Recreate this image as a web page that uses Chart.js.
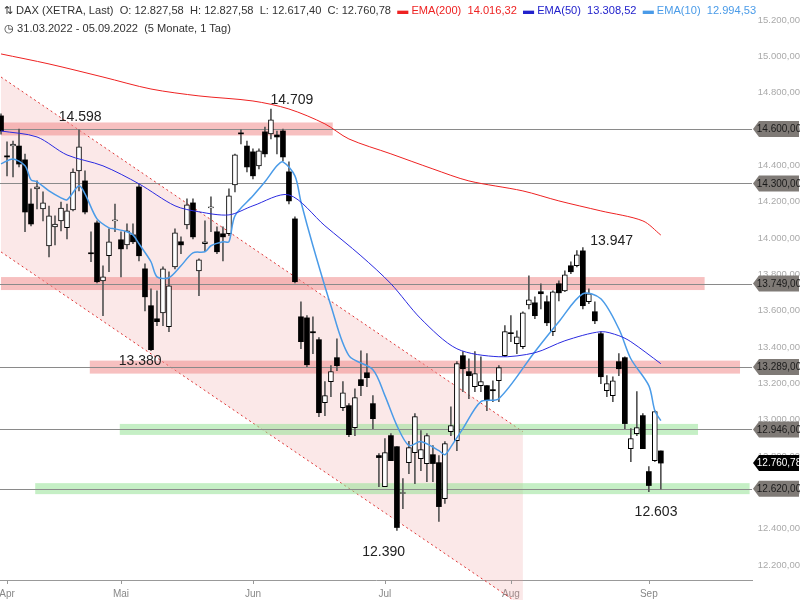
<!DOCTYPE html>
<html><head><meta charset="utf-8">
<script src="https://cdn.jsdelivr.net/npm/chart.js@4/dist/chart.umd.min.js"></script>
<style>
html,body{margin:0;padding:0;background:#fff;}
#wrap{position:relative;width:800px;height:600px;}
.hdr{position:absolute;left:4px;font-family:"Liberation Sans",Arial,sans-serif;font-size:11.1px;color:#333;white-space:nowrap;}
</style></head>
<body><div id="wrap"><canvas id="c" width="800" height="600"></canvas>
<div class="hdr" style="top:4px">⇅ DAX (XETRA, Last)&nbsp; O: 12.827,58&nbsp; H: 12.827,58&nbsp; L: 12.617,40&nbsp; C: 12.760,78&nbsp; <span style="color:#e22">▬ EMA(200)&nbsp; 14.016,32</span>&nbsp; <span style="color:#22c">▬ EMA(50)&nbsp; 13.308,52</span>&nbsp; <span style="color:#4a9be8">▬ EMA(10)&nbsp; 12.994,53</span></div>
<div class="hdr" style="top:22px">◷ 31.03.2022 - 05.09.2022&nbsp; (5 Monate, 1 Tag)</div>
</div>
<script>
const open=[14672,14452,14506,14506,14430,14187,14270,14160,13956,14061,14094,14056,14154,14369,14314,13918,14083,13764,13902,14094,13990,13962,14017,14281,13830,13627,13555,13588,13511,13841,13979,14072,14193,13819,13968,14166,14034,14023,14023,14292,14578,14506,14474,14397,14584,14573,14567,14589,14364,14105,13566,13560,13484,13440,13093,13209,13341,13066,13077,12956,13220,13258,13088,12802,12631,12912,12851,12593,12763,12818,12785,12758,12807,12763,12565,12934,12884,13352,13264,13181,13187,13187,13165,13214,13352,13478,13418,13401,13632,13643,13704,13649,13484,13748,13709,13847,13847,13929,13649,13594,13473,13159,13132,13319,13341,12840,12923,13022,12714,12774,12827.58];
const close=[14589,14446,14517,14407,14143,14077,14281,14193,14122,14077,14165,14149,14363,14501,14143,13913,13759,13786,13979,14100,13940,14039,13979,13902,13676,13385,13539,13830,13737,14028,13962,14182,14006,13880,13979,14171,13924,14006,14232,14457,14573,14391,14342,14479,14463,14650,14556,14446,14204,13759,13429,13302,13478,13038,13132,13264,13297,13148,12917,13121,13187,13231,13005,12791,12818,12774,12406,12598,12846,13016,12835,12912,12758,12521,12868,12967,13308,13280,13242,13253,13209,13104,13159,13286,13484,13473,13456,13588,13660,13572,13693,13533,13704,13698,13797,13814,13907,13627,13693,13544,13236,13198,13214,13280,12978,12895,12956,12840,12637,13044,12760.78];
const high=[14683,14529,14534,14600,14462,14270,14314,14254,14176,14122,14198,14187,14380,14595,14369,14034,14094,13847,14050,14187,14034,14078,14078,14298,13858,13720,13709,13841,13814,14050,14006,14215,14215,13885,14094,14226,14061,14061,14270,14462,14595,14534,14490,14490,14611,14709,14589,14600,14419,14116,13649,13572,13566,13451,13209,13297,13445,13209,13088,13170,13379,13363,13132,12813,12895,12923,12851,12675,12880,13033,12939,12923,12857,12802,12879,13071,13319,13374,13335,13374,13346,13187,13214,13297,13517,13572,13489,13594,13792,13676,13748,13682,13709,13764,13819,13869,13930,13947,13720,13649,13484,13242,13236,13363,13346,12950,13154,13033,12741,13049,12827.58];
const low=[14572,14342,14336,14391,14034,14066,14160,14094,13896,13962,14039,13995,14149,14259,14132,13869,13753,13572,13814,14034,13786,13940,13968,13874,13599,13379,13517,13517,13484,13830,13913,14050,13995,13682,13929,14034,13913,13874,14012,14254,14518,14364,14325,14380,14446,14545,14463,14424,14188,13753,13390,13291,13363,13016,13022,13126,13269,13049,12906,12912,13132,13181,12950,12631,12631,12774,12390,12510,12703,12648,12719,12659,12659,12439,12538,12912,12829,13154,13115,13154,13154,13049,13099,13099,13346,13429,13363,13390,13610,13555,13610,13517,13462,13654,13704,13803,13841,13610,13638,13528,13198,13126,13099,13242,12950,12769,12912,12840,12603,12769,12617.40];

const ema200Idx=[0,8,17,25,33,42,48,54,58,65,72,78,87,93,100,107,110];
const ema200Val=[15013,14958,14886,14820,14782,14754,14710,14628,14545,14463,14380,14314,14259,14204,14149,14094,14016];
const ema50Idx=[0,6,11,17,23,29,33,38,42,48,54,60,65,70,76,83,89,94,100,103,105,110];
const ema50Val=[14589,14556,14457,14397,14298,14177,14144,14127,14177,14237,14067,13902,13748,13555,13390,13346,13368,13434,13484,13462,13429,13308];
const ema10Idx=[0,2,4,5,6,8,10,11,13,14,16,18,19,21,22,23,25,26,28,30,32,34,35,37,38,39,42,44,46,47,49,50,52,55,58,62,64,66,68,70,73,74,75,77,80,83,89,93,97,100,103,105,108,109,110];
const ema10Val=[14408,14435,14397,14320,14309,14259,14221,14210,14287,14243,14105,14056,14050,14034,14017,13968,13869,13786,13781,13847,13918,13924,13957,13979,13979,14122,14232,14309,14397,14419,14342,14199,13957,13627,13352,13275,13132,12967,12857,12879,12829,12807,12850,12950,13099,13115,13374,13539,13693,13665,13500,13335,13187,13049,12994];

const monthIdx=[1,20,42,64,85,108];
const monthNames=['Apr','Mai','Jun','Jul','Aug','Sep'];
const yTicks=[12200,12400,12600,12800,13000,13200,13400,13600,13800,14000,14200,14400,14600,14800,15000,15200];

const levelPrice=[14600,14300,13749,13289,12946,12620];
const bandFrom=[0,null,0,14.8,19.8,5.7];
const bandTo=[55.3,null,117.3,123.2,116.2,124.8];
const bandColor=['rgba(240,140,140,0.55)',null,'rgba(240,140,140,0.55)','rgba(240,140,140,0.55)','rgba(150,225,150,0.55)','rgba(150,225,150,0.55)'];
const lastPrice=12760.78;

const chanIdx=[0,87];
const chanUpper=[14886,12934];
const chanLower=[13923,11971];

const annText=['14.598','14.709','13.380','12.390','13.947','12.603'];
const annIdx=[13.2,48.5,23.2,63.8,101.8,109.2];
const annPrice=[14663,14757,13321,12272,13985,12492];

const fmt=v=>{const s=v.toFixed(2).split('.');return s[0].replace(/\B(?=(\d{3})+(?!\d))/g,'.')+','+s[1];};
const idx=open.map((_,i)=>i);
const up=idx.map(i=>close[i]>=open[i]);

const bgPlugin={id:'bg',beforeDatasetsDraw(ch){
  const {ctx,chartArea:a,scales:{x,y}}=ch;
  ctx.save();
  ctx.beginPath();ctx.rect(a.left,0,a.right-a.left,a.bottom+20);ctx.clip();
  ctx.fillStyle='rgba(235,150,150,0.22)';
  ctx.beginPath();
  ctx.moveTo(x.getPixelForValue(chanIdx[0]),y.getPixelForValue(chanUpper[0]));
  ctx.lineTo(x.getPixelForValue(chanIdx[1]),y.getPixelForValue(chanUpper[1]));
  ctx.lineTo(x.getPixelForValue(chanIdx[1]),y.getPixelForValue(chanLower[1]));
  ctx.lineTo(x.getPixelForValue(chanIdx[0]),y.getPixelForValue(chanLower[0]));
  ctx.closePath();ctx.fill();
  ctx.strokeStyle='#d33';ctx.lineWidth=1;ctx.setLineDash([2,3]);
  [chanUpper,chanLower].forEach(L=>{ctx.beginPath();ctx.moveTo(x.getPixelForValue(chanIdx[0]),y.getPixelForValue(L[0]));ctx.lineTo(x.getPixelForValue(chanIdx[1]),y.getPixelForValue(L[1]));ctx.stroke();});
  ctx.setLineDash([]);
  levelPrice.forEach((p,k)=>{
    if(bandColor[k]){ctx.fillStyle=bandColor[k];
      const x0=x.getPixelForValue(bandFrom[k]),x1=x.getPixelForValue(bandTo[k]);
      const h=k>=4?5.5:6.5;
      const py=y.getPixelForValue(p);
      ctx.fillRect(x0,py-h,x1-x0,2*h);}
  });
  levelPrice.forEach(p=>{const py=Math.round(y.getPixelForValue(p))+0.5;ctx.strokeStyle='#8a8a8a';ctx.lineWidth=1;ctx.beginPath();ctx.moveTo(a.left,py);ctx.lineTo(a.right,py);ctx.stroke();});
  ctx.restore();
},afterDraw(ch){
  const {ctx,chartArea:a,scales:{x,y}}=ch;
  ctx.save();
  ctx.strokeStyle='#999';
  monthIdx.forEach(m=>{const px=Math.round(x.getPixelForValue(m))+0.5;ctx.beginPath();ctx.moveTo(px,a.bottom);ctx.lineTo(px,a.bottom+4);ctx.stroke();});
  ctx.font='14px "Liberation Sans",Arial,sans-serif';ctx.fillStyle='#222';ctx.textAlign='center';ctx.textBaseline='middle';
  annText.forEach((t,k)=>ctx.fillText(t,x.getPixelForValue(annIdx[k]),y.getPixelForValue(annPrice[k])));
  const tag=(p,fill,col)=>{const py=y.getPixelForValue(p);const l=a.right+1,r=799,h=8;
    ctx.fillStyle=fill;ctx.beginPath();ctx.moveTo(l,py);ctx.lineTo(l+6,py-h);ctx.lineTo(r,py-h);ctx.lineTo(r,py+h);ctx.lineTo(l+6,py+h);ctx.closePath();ctx.fill();
    ctx.fillStyle=col;ctx.font='10px "Liberation Sans",Arial,sans-serif';ctx.textAlign='center';ctx.fillText(fmt(p),(l+6+r)/2,py+0.5);};
  levelPrice.forEach(p=>tag(p,'#7f7a76','#1a1a1a'));
  tag(lastPrice,'#000','#fff');
  ctx.restore();
}};

const lineDs=(I,V,c,w)=>({type:'line',data:I.map((v,k)=>({x:v,y:V[k]})),borderColor:c,borderWidth:w,pointRadius:0,tension:0.3,order:0});

new Chart(document.getElementById('c'),{
  type:'bar',
  data:{datasets:[
    lineDs(ema200Idx,ema200Val,'#ee2222',1),
    lineDs(ema50Idx,ema50Val,'#2a2ae0',1),
    lineDs(ema10Idx,ema10Val,'#4a9be8',1.5),
    {data:idx.map(i=>({x:i,y:[low[i],high[i]]})),backgroundColor:'#555',barThickness:1,grouped:false,order:3},
    {data:idx.map(i=>({x:i,y:[open[i],close[i]]})),backgroundColor:idx.map(i=>up[i]?'#fff':'#000'),borderColor:'#000',borderWidth:idx.map(i=>up[i]?1:0),borderSkipped:false,barThickness:5,grouped:false,order:2,minBarLength:1}
  ]},
  options:{responsive:false,animation:false,
    plugins:{legend:{display:false},tooltip:{enabled:false}},
    scales:{
      x:{type:'linear',min:-0.17,max:125.2,offset:false,
        grid:{display:false},border:{color:'#999'},
        afterBuildTicks:s=>{s.ticks=monthIdx.map(v=>({value:v}));},
        ticks:{autoSkip:false,maxRotation:0,color:'#888',font:{size:10,family:'"Liberation Sans",Arial'},padding:0,callback:v=>monthNames[monthIdx.indexOf(v)]},
        afterFit:s=>{s.height=20;s.paddingLeft=0;s.paddingRight=0;}},
      y:{position:'right',min:12117,max:15310,
        grid:{drawOnChartArea:false,drawTicks:false},border:{display:false},
        afterBuildTicks:s=>{s.ticks=yTicks.map(v=>({value:v}));},
        ticks:{color:'#aaa',font:{size:9.5,family:'"Liberation Sans",Arial'},padding:0,crossAlign:'far',callback:v=>fmt(v)},
        afterFit:s=>{s.width=48;s.paddingTop=0;s.paddingBottom=0;}}
    }},
  plugins:[bgPlugin]
});
</script></body></html>
